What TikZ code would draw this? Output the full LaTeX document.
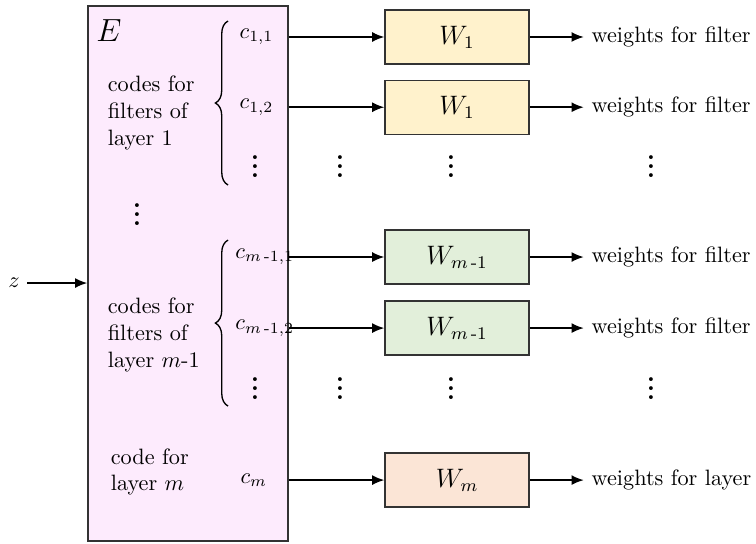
\documentclass[tikz,border=0pt]{standalone}
\usepackage{amsmath}
\usetikzlibrary{positioning,decorations.pathreplacing,arrows.meta}
\definecolor{encpink}{RGB}{253,235,253}
\definecolor{wyellow}{RGB}{255,242,204}
\definecolor{wgreen}{RGB}{226,239,218}
\definecolor{wpeach}{RGB}{251,229,214}
\tikzset{
  wbox/.style={rectangle, draw=black!80, semithick, minimum width=2.277cm, minimum height=0.854cm, inner sep=0pt},
  arr/.style={-{Latex[length=5.5pt,width=4.5pt]}, thick},
  codetext/.style={align=left, anchor=west},
  clabel/.style={anchor=west, inner sep=1pt},
  outtext/.style={right=0.854cm of #1},
  vdotnode/.style={font=\large\bfseries},
  codebrace/.style={decorate, decoration={brace, amplitude=0.2cm}, semithick}
}
\begin{document}
\begin{tikzpicture}
  \useasboundingbox (0,0) rectangle (11.95,8.585);
  % Encoder
  \node[rectangle, draw=black!80, semithick, fill=encpink, minimum width=3.162cm, minimum height=8.458cm] at (2.972,4.261) (E) {};
  \node at (1.723,8.095) (Elabel) {\Large $E$};
  \node at (0.221,4.111) (z) {$z$};
  \draw[arr] (z) -- (E.west |- z);

  % Codes
  \node[codetext] at (1.581,6.798) (t1) {codes for\\filters of\\layer 1};
  \node[codetext] at (1.581,3.289) (t2) {codes for\\filters of\\layer $m$-1};
  \node[codetext] at (1.628,1.123) (t3) {code for\\layer $m$};
  \node[vdotnode] at (2.166,5.30) (edots) {$\vdots$};

  \draw[codebrace] (3.605,5.66) -- (3.605,8.253);
  \draw[codebrace] (3.605,2.166) -- (3.605,4.79);

  \node[clabel] at (3.747,8.0) (c11) {$c_{1,1}$};
  \node[clabel] at (3.747,6.89) (c12) {$c_{1,2}$};
  \node[vdotnode] at (4.03,6.06) (cdots1) {$\vdots$};
  \node[clabel] at (3.68,4.522) (c21) {$c_{m\,\text{-}1,1}$};
  \node[clabel] at (3.68,3.399) (c22) {$c_{m\,\text{-}1,2}$};
  \node[vdotnode] at (4.03,2.55) (cdots2) {$\vdots$};
  \node[clabel] at (3.76,0.996) (c3) {$c_m$};

  % Weight generators
  \node[wbox, fill=wyellow] at (7.225,8.0) (w11) {\large $W_1$};
  \node[wbox, fill=wyellow] at (7.225,6.89) (w12) {\large $W_1$};
  \node[wbox, fill=wgreen] at (7.225,4.522) (w21) {\large $W_{m\,\text{-}1}$};
  \node[wbox, fill=wgreen] at (7.225,3.399) (w22) {\large $W_{m\,\text{-}1}$};
  \node[wbox, fill=wpeach] at (7.225,0.996) (w3) {\large $W_m$};

  \node[outtext=w11] (o11) {weights for filter};
  \node[outtext=w12] (o12) {weights for filter};
  \node[outtext=w21] (o21) {weights for filter};
  \node[outtext=w22] (o22) {weights for filter};
  \node[outtext=w3] (o3) {weights for layer};

  \draw[arr] (E.east |- w11) -- (w11);
  \draw[arr] (E.east |- w12) -- (w12);
  \draw[arr] (E.east |- w21) -- (w21);
  \draw[arr] (E.east |- w22) -- (w22);
  \draw[arr] (E.east |- w3) -- (w3);

  \draw[arr] (w11) -- (o11);
  \draw[arr] (w12) -- (o12);
  \draw[arr] (w21) -- (o21);
  \draw[arr] (w22) -- (o22);
  \draw[arr] (w3) -- (o3);

  % Dots
  \foreach \dy [count=\i] in {6.06,2.55} {
    \node[vdotnode] at (5.375,\dy) (adots\i) {$\vdots$};
    \node[vdotnode] at (7.13,\dy) (wdots\i) {$\vdots$};
    \node[vdotnode] at (10.292,\dy) (odots\i) {$\vdots$};
  }
\end{tikzpicture}
\end{document}
